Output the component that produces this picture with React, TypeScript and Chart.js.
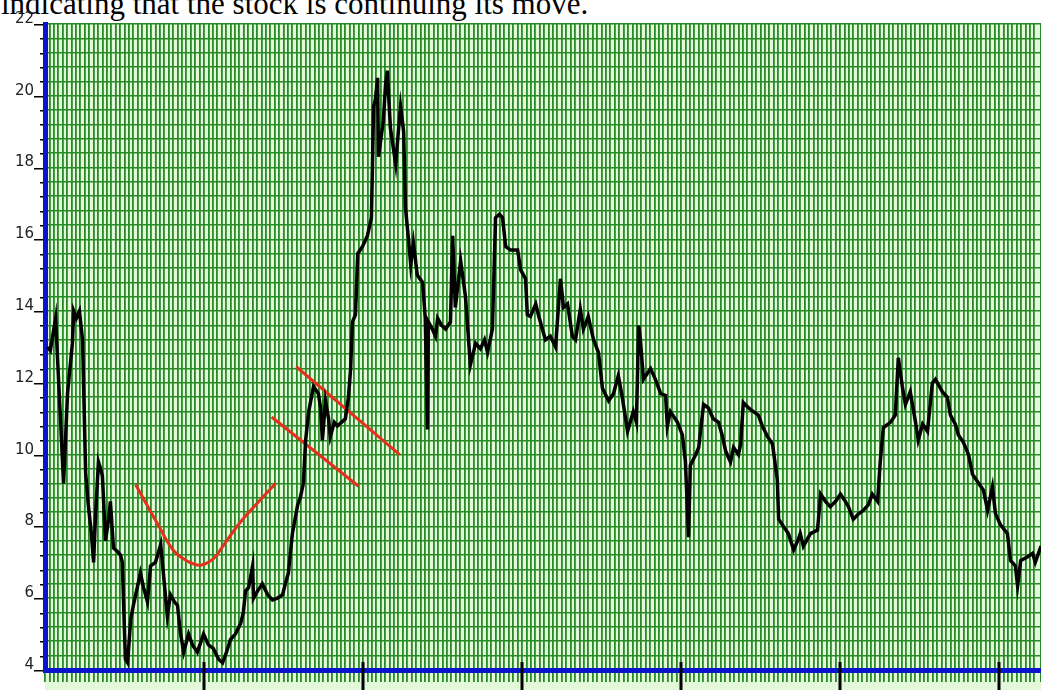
import React, { useEffect, useRef } from 'react';
import { Chart, registerables } from 'chart.js';

Chart.register(...registerables);

// ---- data (trading-day index, price) ----
const days = [
  0.6, 1.2, 2.4, 3.5, 4.2, 5.1, 6.2, 6.5, 7.1, 7.8, 8.5, 9.2, 9.8, 10.5, 11.0, 11.4, 12.1, 12.6, 13.0, 13.7,
  14.4, 14.8, 15.5, 16.4, 17.1, 17.5, 18.2, 18.7, 19.4, 20.0, 20.9, 21.6, 22.3, 23.2, 23.9, 25.0, 26.2, 26.8, 27.7, 28.4,
  29.3, 30.0, 30.7, 31.4, 32.5, 33.4, 34.5, 35.9, 37.0, 38.1, 39.3, 40.2, 41.1, 42.0, 43.1, 44.3, 44.9, 45.4, 46.1, 47.0,
  47.2, 48.1, 49.2, 50.4, 51.5, 52.6, 53.8, 54.4, 55.1, 56.0, 57.2, 57.8, 58.5, 59.0, 59.7, 60.8, 61.9, 62.4, 62.8, 63.5,
  64.2, 64.6, 65.5, 66.2, 67.1, 68.0, 68.7, 69.2, 69.6, 70.3, 70.8, 71.9, 73.0, 73.9, 74.4, 74.8, 75.3, 75.5, 76.6, 77.1,
  77.5, 78.2, 79.4, 80.0, 80.5, 81.2, 81.6, 82.3, 82.8, 83.4, 84.3, 85.5, 86.1, 86.6, 86.8, 87.7, 88.4, 88.9, 89.8, 90.7,
  91.8, 92.3, 92.9, 94.1, 95.2, 95.9, 96.3, 97.5, 98.6, 99.5, 100.2, 101.3, 102.0, 102.9, 103.6, 104.3, 105.4, 107.0, 107.7, 108.8,
  109.2, 109.9, 111.1, 111.7, 112.6, 113.3, 114.4, 115.6, 116.7, 117.4, 118.3, 119.4, 120.1, 121.2, 121.9, 123.0, 124.2, 125.3, 126.2, 127.6,
  128.7, 129.8, 130.7, 131.9, 133.2, 133.9, 134.4, 134.8, 135.5, 137.1, 138.2, 139.4, 140.5, 140.9, 141.6, 143.2, 144.3, 145.0, 145.7, 146.1,
  147.3, 148.0, 149.1, 150.2, 151.3, 152.5, 153.4, 154.1, 155.2, 155.9, 157.0, 157.5, 158.1, 159.3, 160.4, 161.5, 162.4, 163.6, 164.7, 165.8,
  166.1, 167.2, 168.3, 169.5, 170.4, 171.0, 171.7, 173.3, 174.9, 175.6, 176.7, 177.8, 179.0, 180.1, 181.2, 181.9, 183.0, 184.2, 185.3, 186.4,
  187.3, 188.5, 189.1, 189.8, 191.4, 192.5, 193.2, 194.1, 194.8, 195.9, 197.1, 197.7, 198.7, 199.8, 200.9, 201.6, 203.2, 204.3, 205.0, 206.1,
  206.8, 207.9, 209.1, 210.0, 211.1, 212.5, 213.4, 214.5, 215.2, 216.3, 217.9, 218.6, 219.7, 220.2, 220.9, 222.4, 223.6, 224.2, 225.5,
];
const prices = [
  13.0, 12.9, 13.8, 11.0, 9.2, 11.7, 13.1, 14.0, 13.8, 14.0, 13.2, 9.5, 8.6, 7.8, 7.0, 8.2, 9.8, 9.6, 9.4, 7.6,
  8.2, 8.7, 7.4, 7.3, 7.2, 7.0, 4.3, 4.2, 5.4, 5.8, 6.3, 6.7, 6.3, 5.9, 6.9, 7.0, 7.5, 6.7, 5.5, 6.1,
  5.9, 5.8, 5.0, 4.5, 5.0, 4.7, 4.5, 5.0, 4.7, 4.6, 4.3, 4.2, 4.5, 4.85, 5.0, 5.3, 5.6, 6.2, 6.3, 6.9,
  6.0, 6.2, 6.4, 6.1, 5.95, 6.0, 6.1, 6.4, 6.7, 7.8, 8.6, 8.8, 9.2, 10.4, 11.2, 11.9, 11.7, 11.3, 10.4, 11.5,
  11.0, 10.5, 10.9, 10.8, 10.9, 11.0, 11.6, 12.4, 13.7, 13.9, 15.6, 15.8, 16.1, 16.6, 19.7, 19.9, 20.5, 18.3, 19.3, 20.3,
  20.7, 19.1, 18.1, 19.0, 19.7, 19.0, 16.9, 16.0, 15.3, 15.9, 15.0, 14.8, 13.8, 10.7, 13.7, 13.5, 13.3, 13.8, 13.6, 13.5,
  13.7, 16.1, 14.1, 15.4, 14.4, 13.2, 12.5, 13.1, 12.95, 13.2, 12.85, 13.5, 16.6, 16.7, 16.6, 15.8, 15.7, 15.7, 15.15, 14.9,
  13.9, 13.85, 14.2, 13.9, 13.5, 13.2, 13.3, 13.0, 14.9, 14.1, 14.2, 13.3, 13.2, 14.05, 13.5, 13.85, 13.2, 12.85, 11.85, 11.5,
  11.7, 12.2, 11.6, 10.65, 11.2, 10.9, 13.6, 13.2, 12.1, 12.4, 12.1, 11.7, 11.65, 10.8, 11.2, 10.9, 10.55, 9.8, 7.7, 9.7,
  10.0, 10.2, 11.4, 11.3, 11.0, 10.9, 10.5, 10.1, 9.8, 10.2, 10.0, 10.3, 11.45, 11.3, 11.2, 11.1, 10.8, 10.5, 10.3, 9.3,
  8.2, 8.0, 7.8, 7.35, 7.6, 7.8, 7.45, 7.8, 7.9, 8.9, 8.7, 8.55, 8.7, 8.9, 8.7, 8.55, 8.2, 8.35, 8.45, 8.6,
  8.9, 8.7, 9.8, 10.75, 10.9, 11.1, 12.7, 11.9, 11.4, 11.75, 10.9, 10.4, 10.85, 10.65, 12.0, 12.1, 11.75, 11.6, 11.1, 10.85,
  10.55, 10.35, 10.0, 9.45, 9.25, 9.0, 8.45, 9.1, 8.35, 8.05, 7.8, 7.05, 6.9, 6.35, 7.05, 7.15, 7.25, 7.0, 7.45,
];

// red annotations
const curveDays = [20.5, 25.5, 29.1, 32.3, 35.2, 38.2, 40.2, 44.3, 48.3, 52.2];
const curvePrices = [9.17, 8.07, 7.33, 7.03, 6.92, 7.11, 7.44, 8.13, 8.68, 9.2];
const upperDays = [56.9, 80.3];
const upperPrices = [12.45, 10.0];
const lowerDays = [51.3, 71.0];
const lowerPrices = [11.05, 9.12];

const yLabels = [4, 6, 8, 10, 12, 14, 16, 18, 20, 22];
const majorDays = [36, 72, 108, 144, 180, 216];
const caption = 'indicating that the stock is continuing its move.';

const GRID = '#278a27';
const BG = '#e2f8d9';
const BLUE = '#0a14cc';
const RED = '#e2321e';

const pts = (xs: number[], ys: number[]) => xs.map((x, i) => ({ x, y: ys[i] }));
const isLabel = (v: number) => yLabels.includes(Math.round(v * 10) / 10);

const decor = {
  id: 'decor',
  beforeDraw(chart: any) {
    const { ctx, chartArea: a } = chart;
    ctx.save();
    ctx.fillStyle = BG;
    ctx.fillRect(a.left, a.top, a.right - a.left, chart.height - a.top);
    ctx.restore();
  },
  afterDraw(chart: any) {
    const { ctx, chartArea: a } = chart;
    const xs = chart.scales.x;
    const ys = chart.scales.y;
    ctx.save();
    ctx.fillStyle = '#000';
    for (const d of majorDays) {
      const px = xs.getPixelForValue(d);
      ctx.fillRect(Math.round(px) - 1.5, a.bottom - 8, 3, chart.height - a.bottom + 8);
    }
    for (const t of ys.ticks) {
      const py = Math.round(ys.getPixelForValue(t.value));
      if (isLabel(t.value)) ctx.fillRect(a.left - 11, py, 9, 1.5);
      else ctx.fillRect(a.left - 5, py, 3, 1.5);
    }
    ctx.restore();
  },
};

export default function App() {
  const ref = useRef<HTMLCanvasElement | null>(null);
  useEffect(() => {
    if (!ref.current) return;
    const chart = new Chart(ref.current, {
      type: 'line',
      data: {
        datasets: [
          {
            data: pts(days, prices),
            borderColor: '#000',
            borderWidth: 3.5,
            pointRadius: 0,
            tension: 0,
          },
          {
            data: pts(curveDays, curvePrices),
            borderColor: RED,
            borderWidth: 3,
            pointRadius: 0,
            tension: 0.4,
          },
          {
            data: pts(upperDays, upperPrices),
            borderColor: RED,
            borderWidth: 3,
            pointRadius: 0,
          },
          {
            data: pts(lowerDays, lowerPrices),
            borderColor: RED,
            borderWidth: 3,
            pointRadius: 0,
          },
        ],
      },
      options: {
        animation: false,
        responsive: false,
        devicePixelRatio: 1,
        layout: { padding: { top: 24, left: 0, right: 0, bottom: 0 } },
        plugins: { legend: { display: false }, tooltip: { enabled: false } },
        scales: {
          x: {
            type: 'linear',
            min: 0,
            max: 225.5,
            afterFit: (s: any) => { s.height = 12; },
            ticks: { display: false, stepSize: 1, autoSkip: false },
            grid: { color: GRID, lineWidth: 1.8, drawTicks: true, tickLength: 12, tickColor: GRID },
            border: { color: BLUE, width: 5 },
          },
          y: {
            type: 'linear',
            min: 4,
            max: 22,
            afterFit: (s: any) => { s.width = 45; },
            ticks: {
              stepSize: 0.4,
              autoSkip: false,
              padding: 11,
              labelOffset: -5,
              color: '#222',
              font: { family: 'DejaVu Sans', size: 15 },
              callback: (v: any) => (isLabel(Number(v)) ? String(Math.round(Number(v))) : ''),
            },
            grid: { color: GRID, lineWidth: 1.6, drawTicks: false },
            border: { color: BLUE, width: 5 },
          },
        },
      },
      plugins: [decor],
    } as any);
    return () => chart.destroy();
  }, []);

  return (
    <div style={{ position: 'absolute', left: 0, top: 0, width: 1041, height: 690, overflow: 'hidden', background: '#fff' }}>
      <div
        style={{
          position: 'absolute',
          left: 1,
          top: -12,
          fontFamily: '"Liberation Serif", "Times New Roman", serif',
          fontSize: 31,
          lineHeight: '31px',
          whiteSpace: 'nowrap',
          color: '#000',
        }}
      >
        {caption}
      </div>
      <canvas ref={ref} width={1041} height={690} style={{ position: 'absolute', left: 0, top: 0 }} />
    </div>
  );
}
